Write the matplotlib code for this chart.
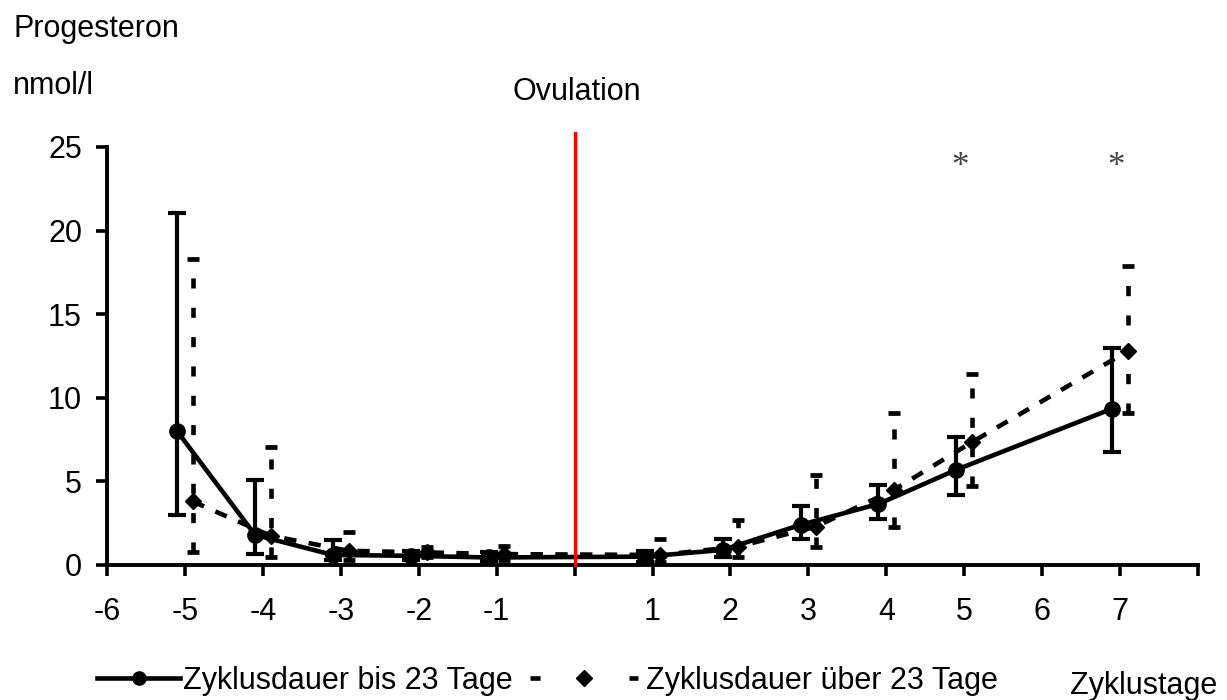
import matplotlib
matplotlib.use("Agg")
import matplotlib.pyplot as plt
from matplotlib.lines import Line2D
import numpy as np

plt.rcParams['font.family'] = ['Liberation Sans', 'DejaVu Sans']

# Cycle days relative to ovulation (day 0)
days = [-5, -4, -3, -2, -1, 1, 2, 3, 4, 5, 7]

# Cycle length up to 23 days: mean and error-bar limits (nmol/l)
short_mean = [8.0, 1.8, 0.6, 0.55, 0.45, 0.5, 0.9, 2.4, 3.65, 5.7, 9.35]
short_upper = [21.05, 5.1, 1.5, 0.85, 0.75, 0.85, 1.55, 3.55, 4.8, 7.65, 13.0]
short_lower = [3.0, 0.65, 0.3, 0.3, 0.25, 0.2, 0.5, 1.55, 2.75, 4.2, 6.75]

# Cycle length over 23 days
long_mean = [3.8, 1.75, 0.85, 0.75, 0.65, 0.6, 1.1, 2.3, 4.5, 7.35, 12.8]
long_upper = [18.3, 7.05, 2.0, 1.1, 1.15, 1.55, 2.7, 5.4, 9.1, 11.4, 17.9]
long_lower = [0.8, 0.5, 0.3, 0.45, 0.3, 0.2, 0.5, 1.05, 2.3, 4.7, 9.1]

# Days marked as significant
signif_days = [5, 7]

tick_days = list(range(-6, 9))
tick_labels = ['' if d in (0, 8) else str(d) for d in tick_days]
y_ticks = [0, 5, 10, 15, 20, 25]

label_names = ['Zyklusdauer bis 23 Tage', 'Zyklusdauer über 23 Tage']

FS = 22
LW = 3.3
W, H = 1227, 700

fig = plt.figure(figsize=(W / 100, H / 100), dpi=100)
ax = fig.add_axes([107 / W, 1 - 565 / H, (1198 - 107) / W, (565 - 147) / H])
ax.set_xlim(-6, 8)
ax.set_ylim(0, 25)

for side in ('top', 'right'):
    ax.spines[side].set_visible(False)
for side in ('left', 'bottom'):
    ax.spines[side].set_linewidth(2.8)
    ax.spines[side].set_capstyle('projecting')

ax.set_xticks(tick_days)
ax.set_xticklabels(tick_labels)
ax.set_yticks(y_ticks)
ax.tick_params(axis='both', direction='out', length=8, width=2.6, labelsize=FS)
ax.tick_params(axis='x', pad=15)
ax.tick_params(axis='y', pad=10)

x = np.array(days, dtype=float)
sm, su, sl = map(np.array, (short_mean, short_upper, short_lower))
lm, lu, ll = map(np.array, (long_mean, long_upper, long_lower))

# Over 23 days: dashed line, diamonds, dashed error bars
eb = ax.errorbar(x + 0.1, lm, yerr=[lm - ll, lu - lm], fmt='none', ecolor='black',
                 elinewidth=LW, capsize=4, capthick=3.4, zorder=2)
for lc in eb[2]:
    lc.set_linestyle((0, (2.2, 4.2)))
ax.plot(x + 0.1, lm, color='black', lw=LW, dashes=(2.7, 2.7), marker='D', ms=8.5, zorder=3)

# Up to 23 days: solid line, circles, capped error bars
ax.errorbar(x - 0.1, sm, yerr=[sm - sl, su - sm], color='black', lw=LW,
            marker='o', ms=11, elinewidth=3.0, capsize=6.5, capthick=3.0, zorder=4)

# Ovulation marker
ax.plot([0, 0], [0, 25.85], color='red', lw=2.4, clip_on=False, zorder=6)

for d in signif_days:
    ax.text(d - 0.05, 23.8, '*', family='Liberation Serif', fontsize=25,
            color='#444444', ha='center', va='center')

fig.text(13 / W, 1 - 37 / H, 'Progesteron', fontsize=FS, ha='left', va='baseline')
fig.text(13 / W, 1 - 94 / H, 'nmol/l', fontsize=FS, ha='left', va='baseline')
fig.text(577 / W, 1 - 100 / H, 'Ovulation', fontsize=FS, ha='center', va='baseline')
fig.text(1070 / W, 1 - 694 / H, 'Zyklustage', fontsize=FS, ha='left', va='baseline')

# Legend entries, each placed on its own
h_short = Line2D([], [], color='black', lw=LW, marker='o', ms=9.5)
h_long = Line2D([], [], color='black', lw=LW, dashes=(2.2, 8.6), marker='D', ms=8)
fig.legend([h_short], [label_names[0]], loc='center left',
           bbox_to_anchor=(97 / W, 1 - 681 / H), frameon=False, fontsize=FS,
           handlelength=2.72, handletextpad=0.1, borderpad=0, borderaxespad=0)
fig.legend([h_long], [label_names[1]], loc='center left',
           bbox_to_anchor=(530 / W, 1 - 681 / H), frameon=False, fontsize=FS,
           handlelength=3.55, handletextpad=0.25, borderpad=0, borderaxespad=0)

fig.savefig('out.png', dpi=100)
